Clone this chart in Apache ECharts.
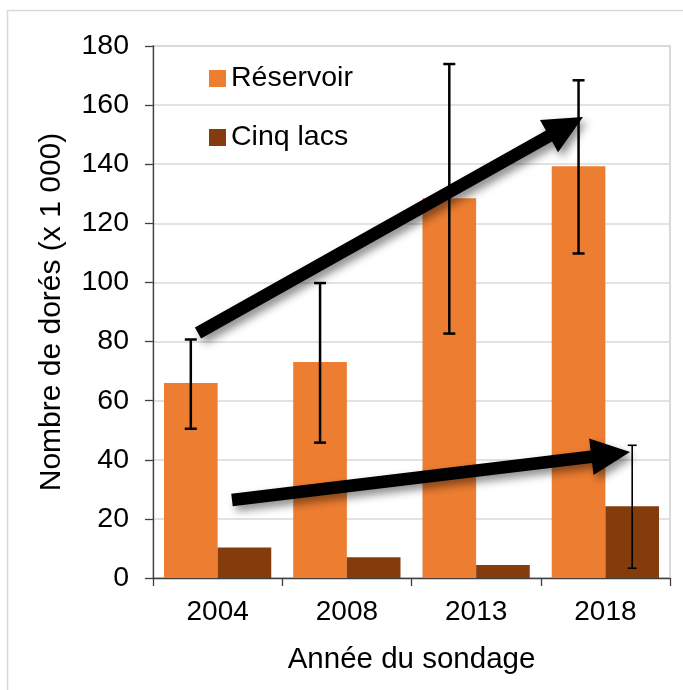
<!DOCTYPE html>
<html>
<head>
<meta charset="utf-8">
<script src="https://cdn.jsdelivr.net/npm/echarts@6/dist/echarts.min.js"></script>
<style>
  html, body { margin: 0; padding: 0; background: #fff; }
  #chart { width: 683px; height: 690px; }
</style>
</head>
<body>
<div id="chart"></div>
<script>
// ---- Data ----
const categories = ['2004', '2008', '2013', '2018'];
const seriesNames = ['Réservoir', 'Cinq lacs'];
const reservoir = [66.0, 73.1, 128.5, 139.3];
const cinqLacs = [10.3, 7.0, 4.4, 24.3];
const reservoirLow = [50.5, 45.8, 82.7, 109.8];
const reservoirHigh = [80.7, 99.8, 173.9, 168.4];
const cinqLacsLow = [null, null, null, 3.3];
const cinqLacsHigh = [null, null, null, 44.9];
const yMin = 0, yMax = 180, yInterval = 20;
// Trend arrows (annotation), in data units: [xStart, yStart, xEnd, yEnd]
// x measured in category widths from the left edge of the plot
const arrowReservoir = [0.348, 82.9, 3.327, 156.0];
const arrowCinqLacs = [0.611, 26.4, 3.691, 42.6];

const colors = ['#ED7D31', '#843C0C'];
const FONT = '"Liberation Sans", Arial, sans-serif';
const CAT_GAP = 0.17;

function errData(lo, hi) {
  const out = [];
  lo.forEach(function (l, i) { if (l != null) out.push([i, l, hi[i]]); });
  return out;
}

function errRenderer(sign, lw, capHalf) {
  return function (params, api) {
    const idx = api.value(0), lo = api.value(1), hi = api.value(2);
    const band = api.size([1, 0])[0];
    const off = sign * band * (1 - CAT_GAP) / 4;
    const pLo = api.coord([idx, lo]);
    const pHi = api.coord([idx, hi]);
    const x = pLo[0] + off;
    const st = { stroke: '#000', lineWidth: lw };
    return {
      type: 'group',
      children: [
        { type: 'line', shape: { x1: x, y1: pHi[1], x2: x, y2: pLo[1] }, style: st },
        { type: 'line', shape: { x1: x - capHalf, y1: pHi[1], x2: x + capHalf, y2: pHi[1] }, style: st },
        { type: 'line', shape: { x1: x - capHalf, y1: pLo[1], x2: x + capHalf, y2: pLo[1] }, style: st }
      ]
    };
  };
}

function arrowRenderer(params, api) {
  const p0 = api.coord([api.value(0), api.value(1)]);
  const p1 = api.coord([api.value(2), api.value(3)]);
  const dx = p1[0] - p0[0], dy = p1[1] - p0[1];
  const len = Math.sqrt(dx * dx + dy * dy);
  const ux = dx / len, uy = dy / len;
  const nx = -uy, ny = ux;
  const w = 6.3, H = 18.5, L = 39;
  const bx = p1[0] - ux * L, by = p1[1] - uy * L;
  const pts = [
    [p0[0] + nx * w, p0[1] + ny * w],
    [bx + nx * w, by + ny * w],
    [bx + nx * H, by + ny * H],
    [p1[0], p1[1]],
    [bx - nx * H, by - ny * H],
    [bx - nx * w, by - ny * w],
    [p0[0] - nx * w, p0[1] - ny * w]
  ];
  return {
    type: 'polygon',
    shape: { points: pts },
    style: {
      fill: '#000',
      shadowBlur: 8,
      shadowOffsetX: 4,
      shadowOffsetY: 5,
      shadowColor: 'rgba(0,0,0,0.45)'
    }
  };
}

const chart = echarts.init(document.getElementById('chart'), null, { renderer: 'canvas' });
chart.setOption({
  animation: false,
  backgroundColor: '#fff',
  color: colors,
  textStyle: { fontFamily: FONT },
  graphic: [{
    type: 'rect',
    shape: { x: 7.5, y: 10.5, width: 720, height: 720 },
    style: { fill: 'none', stroke: '#d9d9d9', lineWidth: 1.5 },
    silent: true,
    z: -10
  }],
  grid: {
    left: 153, right: 13, top: 46, bottom: 112,
    show: true, borderColor: '#d9d9d9', borderWidth: 2, backgroundColor: 'transparent'
  },
  legend: {
    orient: 'vertical',
    left: 204, top: 59,
    itemWidth: 17, itemHeight: 17, itemGap: 30,
    icon: 'rect',
    data: seriesNames,
    textStyle: { fontSize: 28.5, color: '#000', fontFamily: FONT }
  },
  xAxis: [{
    type: 'category',
    data: categories,
    boundaryGap: true,
    axisLine: { show: true, lineStyle: { color: '#404040', width: 1.3 } },
    axisTick: { show: true, length: 8, lineStyle: { color: '#404040', width: 1.3 } },
    axisLabel: { fontSize: 28, color: '#000', margin: 20, fontFamily: FONT },
    name: 'Année du sondage',
    nameLocation: 'middle',
    nameGap: 67,
    nameTextStyle: { fontSize: 29.5, color: '#000', fontFamily: FONT }
  }, {
    type: 'value', min: 0, max: 4, show: false
  }],
  yAxis: {
    type: 'value',
    min: yMin, max: yMax, interval: yInterval,
    axisLine: { show: true, lineStyle: { color: '#404040', width: 1.3 } },
    axisTick: { show: true, length: 8, lineStyle: { color: '#404040', width: 1.3 } },
    axisLabel: { fontSize: 28.5, color: '#000', margin: 24, fontFamily: FONT },
    splitLine: { show: true, lineStyle: { color: '#d9d9d9', width: 1.5 } },
    name: 'Nombre de dorés (x 1 000)',
    nameLocation: 'middle',
    nameGap: 86,
    nameTextStyle: { fontSize: 30, color: '#000', fontFamily: FONT }
  },
  series: [
    {
      name: seriesNames[0], type: 'bar', data: reservoir,
      barGap: '0%', barCategoryGap: (CAT_GAP * 100) + '%',
      itemStyle: { color: colors[0] }, z: 2
    },
    {
      name: seriesNames[1], type: 'bar', data: cinqLacs,
      barGap: '0%', barCategoryGap: (CAT_GAP * 100) + '%',
      itemStyle: { color: colors[1] }, z: 2
    },
    {
      type: 'custom', name: 'errR', data: errData(reservoirLow, reservoirHigh),
      renderItem: errRenderer(-1, 2.5, 6), encode: { x: 0, y: [1, 2] },
      clip: false, z: 3, silent: true
    },
    {
      type: 'custom', name: 'errC', data: errData(cinqLacsLow, cinqLacsHigh),
      renderItem: errRenderer(1, 1.6, 4.5), encode: { x: 0, y: [1, 2] },
      clip: false, z: 3, silent: true
    },
    {
      type: 'custom', name: 'arrows', xAxisIndex: 1, yAxisIndex: 0,
      data: [arrowReservoir, arrowCinqLacs],
      renderItem: arrowRenderer, encode: { x: [0, 2], y: [1, 3] },
      clip: false, z: 4, silent: true
    }
  ]
});
</script>
</body>
</html>
